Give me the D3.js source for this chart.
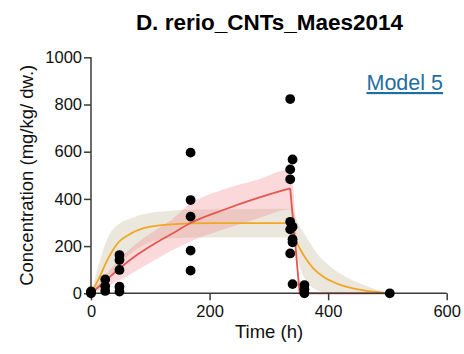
<!DOCTYPE html>
<html>
<head>
<meta charset="utf-8">
<script src="https://cdn.jsdelivr.net/npm/d3@7"></script>
<style>
  html, body { margin: 0; padding: 0; background: #fff; }
  svg { display: block; font-family: "Liberation Sans", Arial, Helvetica, sans-serif; }
</style>
</head>
<body>
<svg id="chart" width="464" height="354"></svg>
<script>
// Observed tissue concentrations (mg/kg dw) at sampling times (h)
const obsTime = [0, 0, 0,
  24, 24, 24,
  48, 48, 48, 48, 48,
  168, 168, 168, 168, 168,
  336, 340, 336, 336, 336, 340, 336, 340, 340, 336, 340,
  360, 360, 360,
  504];
const obsConc = [0, 4, 8,
  59, 30, 10,
  162, 141, 99, 28, 7,
  596, 395, 325, 181, 96,
  823, 567, 525, 483, 303, 282, 271, 229, 216, 169, 39,
  35, 17, 0,
  0];

// Model 5 fit (red) and its confidence band
const redTime  = [0, 24, 48, 79, 107, 135, 168, 223, 279, 319, 336];
const redFit   = [0, 52, 105, 165, 210, 250, 298, 353, 402, 433, 445];
const redDropTime = [336, 352, 504];
const redDropFit  = [445, 0, 0];
const redBandTime  = [0, 24, 48, 79, 107, 135, 168, 223, 279, 336, 352];
const redBandUpper = [0, 75, 145, 215, 265, 310, 380, 440, 480, 525, 4];
const redBandLower = [0, 25, 55, 100, 140, 180, 220, 270, 315, 355, 0];

// Alternative fit (orange) and its confidence band
const orgTime = [0, 12, 29, 45, 68, 96, 135, 200, 336, 344, 352, 364, 375, 392, 414, 442, 476, 504];
const orgFit  = [0, 56, 148, 212, 254, 280, 292, 297, 297, 233, 191, 141, 106, 70, 42, 21, 7, 0];
const orgBandTime  = [0, 12, 29, 45, 68, 96, 135, 180, 336, 341, 352, 364, 381, 403, 430, 460, 482, 504];
const orgBandUpper = [0, 113, 240, 289, 318, 339, 350, 355, 358, 345, 285, 235, 170, 115, 70, 35, 15, 0];
const orgBandLower = [0, 14, 56, 113, 170, 212, 233, 236, 236, 226, 113, 49, 14, 0, 0, 0, 0, 0];

const xTicks = [0, 200, 400, 600];
const xMinorTicks = d3.range(0, 601, 20);
const yTicks = [0, 200, 400, 600, 800, 1000];

const svg = d3.select("#chart");
const x = d3.scaleLinear().domain([0, 600]).range([91, 446.7]);
const y = d3.scaleLinear().domain([0, 1000]).range([293.3, 57.3]);

const zip = (t, v) => t.map((d, i) => [d, v[i]]);
const band = (t, lo, hi) => t.map((d, i) => ({ t: d, lo: lo[i], hi: hi[i] }));

const area = d3.area()
  .x(d => x(d.t)).y0(d => y(d.lo)).y1(d => y(d.hi))
  .curve(d3.curveMonotoneX);
const line = d3.line().x(d => x(d[0])).y(d => y(d[1])).curve(d3.curveMonotoneX);
const straight = d3.line().x(d => x(d[0])).y(d => y(d[1]));

// Confidence bands
svg.append("path")
  .attr("d", area(band(orgBandTime, orgBandLower, orgBandUpper)))
  .attr("fill", "#cfc6ae").attr("fill-opacity", 0.42);
svg.append("path")
  .attr("d", area(band(redBandTime, redBandLower, redBandUpper)))
  .attr("fill", "#f28088").attr("fill-opacity", 0.3);

// Fitted curves
svg.append("path")
  .attr("d", line(zip(orgTime, orgFit)))
  .attr("fill", "none").attr("stroke", "#f2a623").attr("stroke-width", 1.8);
svg.append("path")
  .attr("d", line(zip(redTime, redFit)))
  .attr("fill", "none").attr("stroke", "#e2584f").attr("stroke-width", 1.8);
svg.append("path")
  .attr("d", straight(zip(redDropTime, redDropFit)))
  .attr("fill", "none").attr("stroke", "#e2584f").attr("stroke-width", 1.8);

// Axes
const axisColor = "#3a3a3a";
const gx = svg.append("g").attr("transform", `translate(0,${y(0)})`);
gx.call(d3.axisBottom(x).tickValues(xMinorTicks).tickSize(4).tickFormat(""));
gx.call(d3.axisBottom(x).tickValues(xTicks).tickSize(7).tickPadding(5).tickFormat(d3.format("d")));
gx.select(".domain").attr("d", `M${x(0)},0H${x(600)}`);
gx.selectAll("path, line").attr("stroke", axisColor).attr("stroke-width", 1.5);
gx.selectAll("text").attr("font-size", 16.5).attr("fill", "#111").attr("font-family", null);

const gy = svg.append("g").attr("transform", `translate(${x(0)},0)`);
gy.call(d3.axisLeft(y).tickValues(yTicks).tickSize(7).tickPadding(2).tickFormat(d3.format("d")));
gy.select(".domain").attr("d", `M0,${y(0)}V${y(1000)}`);
gy.selectAll("path, line").attr("stroke", axisColor).attr("stroke-width", 1.5);
gy.selectAll("text").attr("font-size", 16.5).attr("fill", "#111").attr("font-family", null);

// Observations
svg.append("g").selectAll("circle")
  .data(zip(obsTime, obsConc))
  .join("circle")
  .attr("cx", d => x(d[0])).attr("cy", d => y(d[1]))
  .attr("r", 4.9).attr("fill", "#000");

// Titles and labels
svg.append("text")
  .attr("x", 269.5).attr("y", 30)
  .attr("text-anchor", "middle").attr("font-weight", "bold")
  .attr("font-size", 22.5).attr("fill", "#000")
  .text("D. rerio_CNTs_Maes2014");

svg.append("text")
  .attr("x", 269).attr("y", 338)
  .attr("text-anchor", "middle").attr("font-size", 18.5).attr("fill", "#111")
  .text("Time (h)");

svg.append("text")
  .attr("transform", `translate(33,${(y(0) + y(1000)) / 2}) rotate(-90)`)
  .attr("text-anchor", "middle").attr("font-size", 18.5).attr("fill", "#111")
  .text("Concentration (mg/kg/ dw.)");

svg.append("text")
  .attr("x", 366.5).attr("y", 90)
  .attr("font-size", 21.5).attr("fill", "#1f6ea3")
  .attr("text-decoration", "underline")
  .text("Model 5");
</script>
</body>
</html>
